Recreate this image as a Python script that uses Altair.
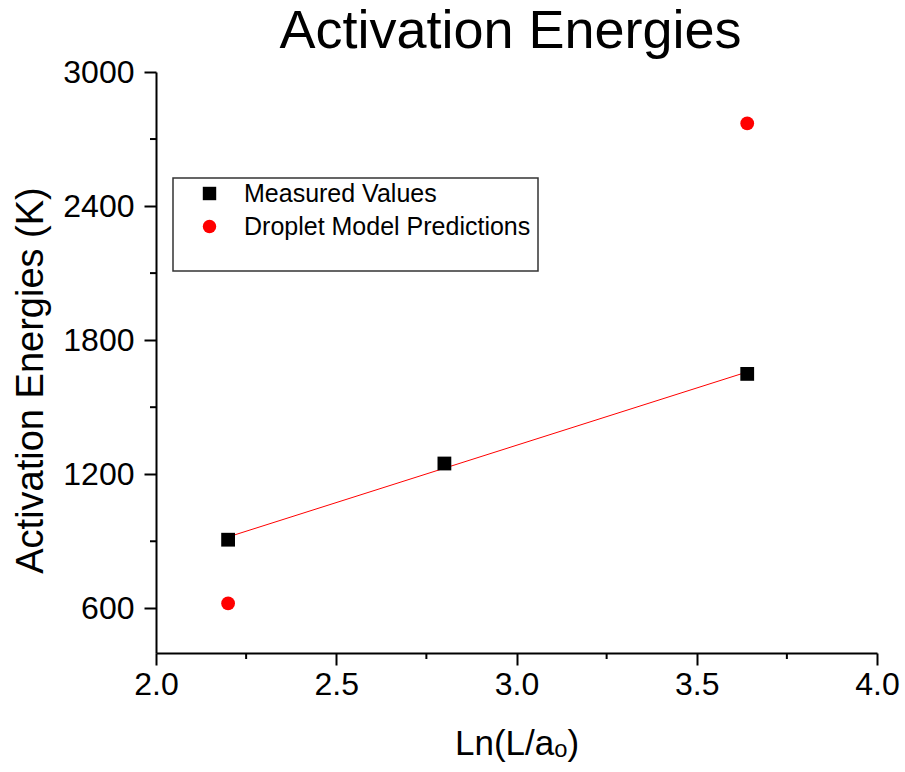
import altair as alt
import pandas as pd

# Measured activation energies and droplet-model predictions vs ln(L/a_o)
measured_x = [2.2, 2.8, 3.64]
measured_y = [907, 1248, 1649]
droplet_x = [2.2, 3.64]
droplet_y = [622, 2770]

series_names = ["Measured Values", "Droplet Model Predictions"]

x_major = [2.0, 2.5, 3.0, 3.5, 4.0]
x_minor = [2.25, 2.75, 3.25, 3.75]
y_major = [600, 1200, 1800, 2400, 3000]
y_minor = [900, 1500, 2100, 2700]

FONT = "Liberation Sans"

points = pd.DataFrame(
    {
        "x": measured_x + droplet_x,
        "y": measured_y + droplet_y,
        "series": [series_names[0]] * len(measured_x) + [series_names[1]] * len(droplet_x),
    }
)
measured = pd.DataFrame({"x": measured_x, "y": measured_y})

x_scale = alt.Scale(domain=[2.0, 4.0], nice=False, zero=False)
y_scale = alt.Scale(domain=[400, 3000], nice=False, zero=False)

x_axis = alt.Axis(
    values=x_major, format=".1f", title="Ln(L/aₒ)", grid=False, labelFlush=False,
    tickSize=12, tickWidth=2, domainWidth=2, domainColor="black", tickColor="black",
    labelFontSize=32, labelFont=FONT, labelColor="black", labelPadding=4,
    titleFontSize=35, titleFont=FONT, titleFontWeight="normal", titleColor="black",
    titlePadding=26,
)
y_axis = alt.Axis(
    values=y_major, format="d", title="Activation Energies (K)", grid=False, labelFlush=False,
    tickSize=12, tickWidth=2, domainWidth=2, domainColor="black", tickColor="black",
    labelFontSize=32, labelFont=FONT, labelColor="black", labelPadding=10,
    titleFontSize=38, titleFont=FONT, titleFontWeight="normal", titleColor="black",
    titlePadding=12, titleY=308,
)

color_scale = alt.Scale(domain=series_names, range=["black", "#ff0000"])
shape_scale = alt.Scale(domain=series_names, range=["square", "circle"])

box = alt.Chart(pd.DataFrame({"k": [0]})).mark_rect(
    fill="white", stroke="#333333", strokeWidth=1.5
).encode(
    x=alt.value(17), x2=alt.value(382), y=alt.value(106), y2=alt.value(199)
)

fit = alt.Chart(measured).transform_regression("x", "y").mark_line(
    color="#ff0000", strokeWidth=1
).encode(
    x=alt.X("x:Q", scale=x_scale, axis=x_axis),
    y=alt.Y("y:Q", scale=y_scale, axis=y_axis),
)

legend = alt.Legend(
    title=None, orient="none", legendX=41, legendY=109,
    labelFont=FONT, labelFontSize=25, labelColor="black", labelLimit=500,
    symbolSize=180, labelOffset=22, rowPadding=7, symbolStrokeWidth=0,
)

dots = alt.Chart(points).mark_point(filled=True, opacity=1, size=190).encode(
    x=alt.X("x:Q", scale=x_scale),
    y=alt.Y("y:Q", scale=y_scale),
    color=alt.Color("series:N", scale=color_scale, legend=legend),
    shape=alt.Shape("series:N", scale=shape_scale, legend=legend),
)

x_minor_ticks = alt.Chart(pd.DataFrame({"v": x_minor})).mark_rule(
    color="black", strokeWidth=2
).encode(
    x=alt.X("v:Q", scale=x_scale),
    y=alt.value(581), y2=alt.value(587),
)
y_minor_ticks = alt.Chart(pd.DataFrame({"v": y_minor})).mark_rule(
    color="black", strokeWidth=2
).encode(
    y=alt.Y("v:Q", scale=y_scale),
    x=alt.value(0), x2=alt.value(-6),
)

chart = (
    alt.layer(box, fit, dots, x_minor_ticks, y_minor_ticks)
    .properties(
        width=721,
        height=581,
        autosize=alt.AutoSizeParams(type="none"),
        padding={"left": 156, "top": 72, "right": 28, "bottom": 119},
        title=alt.TitleParams(
            "Activation Energies", fontSize=54, font=FONT, fontWeight="normal",
            color="black", anchor="middle", offset=0, dx=-6, dy=3,
        ),
        background="white",
    )
    .configure_view(stroke=None)
)

chart.save("out.html", embed_options={"renderer": "svg", "actions": False})
